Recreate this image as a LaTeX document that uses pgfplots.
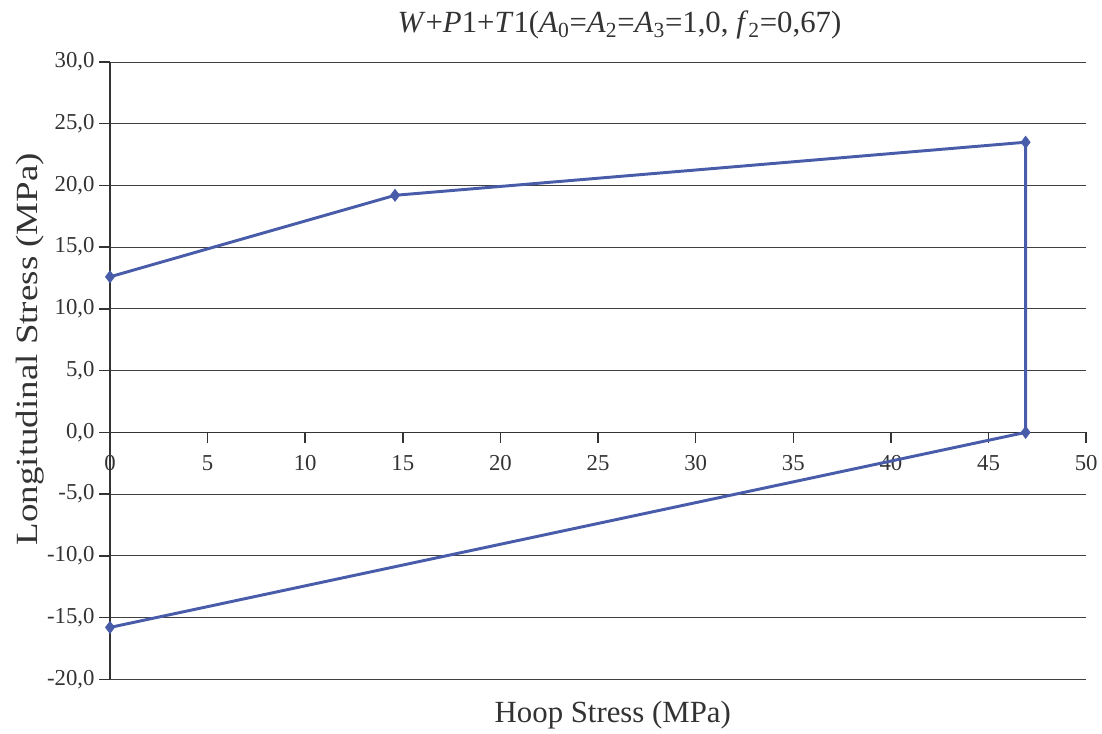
\documentclass[border=0pt]{standalone}
\usepackage{pgfplots}
\pgfplotsset{compat=1.18}
\usepackage{fontspec}
\setmainfont{Liberation Serif}
\newfontfamily\ylabfont[FakeStretch=1.2]{Liberation Serif}
\definecolor{lineblue}{RGB}{72,92,170}
\begin{document}
\begin{tikzpicture}
\begin{axis}[
  scale only axis,
  width=729pt, height=461pt,
  xmin=0, xmax=50, ymin=-20, ymax=30,
  axis x line=middle, axis y line=left,
  hide obscured x ticks=false,
  axis line style={-, black!80, line width=1.1pt},
  xtick={0,5,...,50}, ytick={-20,-15,...,30},
  tick align=outside,
  major tick length=8pt,
  xtick style={black!80, line width=1.1pt, draw=black!80},
  ytick style={black!80, line width=1.1pt},
  ymajorgrids,
  grid style={black!75, line width=0.7pt},
  /pgf/number format/assume math mode=true,
  yticklabel style={/pgf/number format/fixed, /pgf/number format/fixed zerofill, /pgf/number format/precision=1, /pgf/number format/use comma},
  xticklabel style={/pgf/number format/fixed, /pgf/number format/precision=0, yshift=-6pt},
  tick label style={font=\fontsize{17}{19}\selectfont, text=black!80},
  title={\textit{W}+\textit{P}1+\textit{T}1(\textit{A}\textsubscript{0}=\textit{A}\textsubscript{2}=\textit{A}\textsubscript{3}=1,0, \textit{f}\textsubscript{2}=0,67)},
  title style={font=\fontsize{23}{26}\selectfont, text=black!80, inner ysep=8pt, yshift=3pt, xshift=16pt},
  xlabel={Hoop Stress (MPa)},
  ylabel={\ylabfont Longitudinal Stress (MPa)},
  label style={font=\fontsize{23}{26}\selectfont, text=black!80},
  xlabel style={at={(axis description cs:0.5,0)}, anchor=north, yshift=-13pt, xshift=11pt},
  ylabel style={at={(axis description cs:0,0.535)}, anchor=south, inner ysep=12pt, yshift=37pt},
  clip=false,
]
\addplot[lineblue, line width=2.2pt, mark=diamond*, mark size=4.5pt, mark options={fill=lineblue, line width=0.5pt}]
coordinates {
 (0,12.6) (14.6,19.2) (46.9,23.5) (46.9,0) (0,-15.8)
};
\end{axis}
\end{tikzpicture}
\end{document}
